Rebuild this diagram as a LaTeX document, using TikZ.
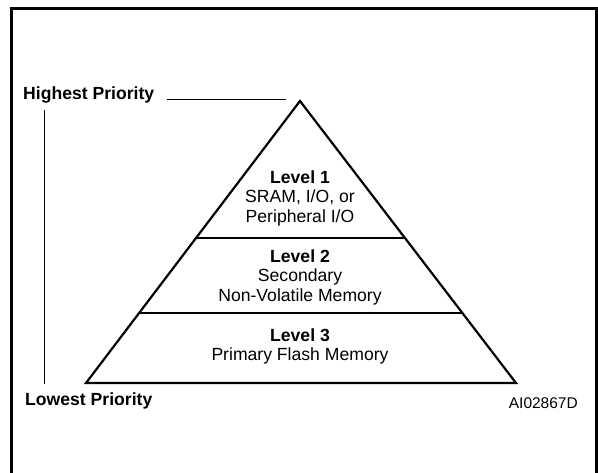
\documentclass[tikz,border=0pt]{standalone}
\usepackage{fontspec}
\setmainfont{Liberation Sans}
\usetikzlibrary{positioning,calc}

\begin{document}
\begin{tikzpicture}[
    x=1pt, y=-1pt,
    lvltext/.style={align=center, inner sep=0pt, font=\fontsize{17.6}{19.5}\selectfont},
    prio/.style={inner sep=0pt, font=\fontsize{17.6}{20}\selectfont\bfseries},
    pyramid/.style={draw, line width=2.2pt, line join=miter},
    divider/.style={draw, line width=1.6pt},
    guide/.style={draw, line width=1pt}
]
\useasboundingbox (0,0) rectangle (598,473);
\draw[line width=3pt] (11,490) -- (11,9) -- (596,9) -- (596,490);

\coordinate (apex) at (300,101);
\coordinate (baseL) at (86,383);
\coordinate (baseR) at (516,383);
\draw[pyramid] (apex) -- (baseL) -- (baseR) -- cycle;
\draw[divider] ($(apex)!0.486!(baseL)$) -- ($(apex)!0.486!(baseR)$);
\draw[divider] ($(apex)!0.752!(baseL)$) -- ($(apex)!0.752!(baseR)$);

\node[lvltext] (lvl1) at (300,198) {\textbf{Level 1}\\SRAM, I/O, or\\Peripheral I/O};
\node[lvltext] (lvl2) at (300,277) {\textbf{Level 2}\\Secondary\\Non-Volatile Memory};
\node[lvltext] (lvl3) at (300,346.5) {\textbf{Level 3}\\Primary Flash Memory};

\node[prio, anchor=base west] (hi) at (23,100) {Highest Priority};
\coordinate (hiEnd) at (286,100);
\draw[guide] ([xshift=13pt]hi.base east) -- (hiEnd);

\node[prio, anchor=base west] (lo) at (25,406) {Lowest Priority};
\coordinate (axTop) at (44,110);
\coordinate (axBot) at (44,384);
\draw[guide] (axTop) -- (axBot);

\node[anchor=base east, inner sep=0pt, font=\fontsize{15.5}{18}\selectfont] (figid) at (578,409) {AI02867D};
\end{tikzpicture}
\end{document}
